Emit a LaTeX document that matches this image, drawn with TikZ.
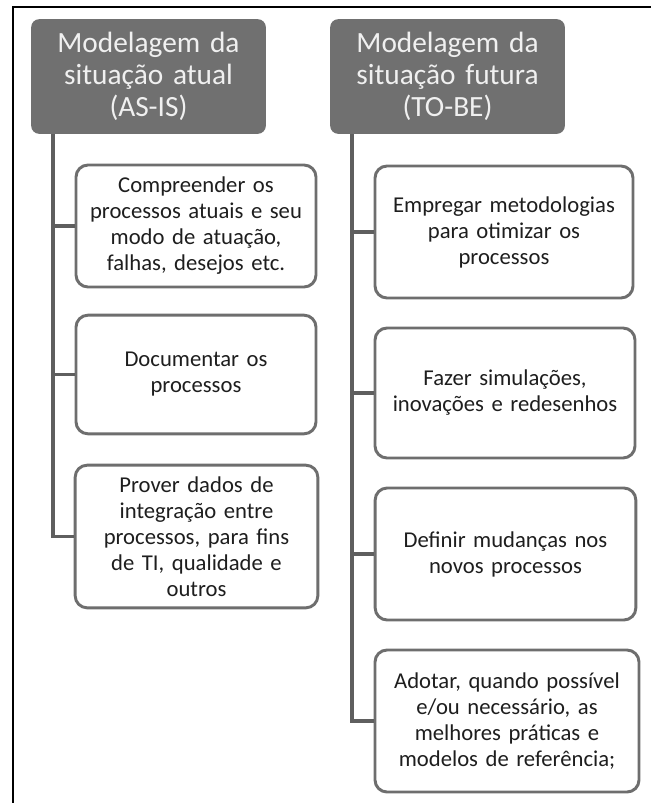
\documentclass[tikz,border=0pt]{standalone}
\usepackage{fontspec}
\setmainfont{Carlito}
\usepackage{tikz}
\usetikzlibrary{positioning}
\definecolor{hdrgray}{RGB}{112,112,112}
\definecolor{boxgray}{RGB}{110,110,110}
\definecolor{linegray}{RGB}{95,95,95}
\definecolor{txtgray}{RGB}{30,30,30}

\begin{document}
\begin{tikzpicture}[x=0.75pt,y=-0.75pt,
	header/.style={fill=hdrgray, text=white!94!black, rounded corners=6pt,
		minimum width=176pt, minimum height=86pt, text width=170pt, align=center,
		inner sep=0pt, font=\fontsize{22}{24}\selectfont},
	task/.style={draw=boxgray, line width=2.2pt, fill=white, rounded corners=9pt,
		text=txtgray, align=center, inner sep=0pt, font=\fontsize{17}{19.5}\selectfont},
	trunk/.style={draw=linegray, line width=2.4pt}]
	\useasboundingbox (0,0) rectangle (651,803);
	\draw[line width=1.5pt] (13,803) -- (13,7) -- (651,7);

	\node[header] (asis) at (148.5,76.5) {Modelagem da\\ situação atual\\ (AS-IS)};
	\node[header] (tobe) at (447.5,76.5) {Modelagem da\\ situação futura\\ (TO-BE)};

	\node[task, minimum width=180pt, text width=172pt, minimum height=91.5pt] (comp) at (196,226)
		{Compreender os\\ processos atuais e seu\\ modo de atuação,\\ falhas, desejos etc.};
	\node[task, minimum width=180pt, text width=172pt, minimum height=89pt] (doc) at (196,374.5)
		{Documentar os\\ processos};
	\node[task, minimum width=182pt, text width=174pt, minimum height=107pt] (prov) at (196.5,536.5)
		{Prover dados de\\ integração entre\\ processos, para fins\\ de TI, qualidade e\\ outros};

	\node[task, minimum width=193.5pt, text width=186pt, minimum height=99pt] (empr) at (504,232)
		{Empregar metodologias\\ para otimizar os\\ processos};
	\node[task, minimum width=195pt, text width=187pt, minimum height=97.5pt] (faz) at (505,393)
		{Fazer simulações,\\ inovações e redesenhos};
	\node[task, minimum width=195.5pt, text width=188pt, minimum height=99pt] (def) at (505.5,554)
		{Definir mudanças nos\\ novos processos};
	\node[task, minimum width=198pt, text width=190pt, minimum height=106.5pt] (adot) at (507,721)
		{Adotar, quando possível\\ e/ou necessário, as\\ melhores práticas e\\ modelos de referência;};

	\coordinate (ta) at (53,134);
	\coordinate (tb) at (352,134);
	\draw[trunk] (ta) |- (comp.west);
	\draw[trunk] (ta) |- (doc.west);
	\draw[trunk] (ta) |- (prov.west);
	\draw[trunk] (tb) |- (empr.west);
	\draw[trunk] (tb) |- (faz.west);
	\draw[trunk] (tb) |- (def.west);
	\draw[trunk] (tb) |- (adot.west);
\end{tikzpicture}
\end{document}
